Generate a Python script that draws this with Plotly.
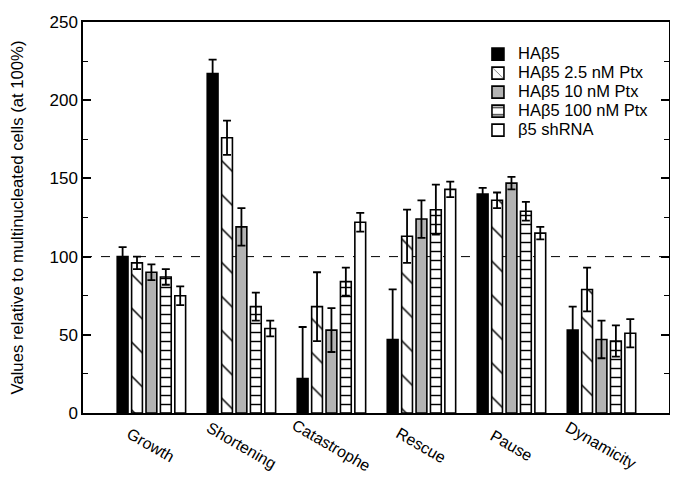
import plotly.graph_objects as go

categories = ["Growth", "Shortening", "Catastrophe", "Rescue", "Pause", "Dynamicity"]
series_names = ["HAβ5", "HAβ5 2.5 nM Ptx", "HAβ5 10 nM Ptx", "HAβ5 100 nM Ptx", "β5 shRNA"]

ha_b5 = [100, 217, 22, 47, 140, 53]
ha_b5_err = [6, 9, 33, 32, 4, 15]
ptx_2_5 = [96, 176, 68, 113, 136, 79]
ptx_2_5_err = [4, 11, 22, 17, 5, 14]
ptx_10 = [90, 119, 53, 124, 147, 47]
ptx_10_err = [5, 12, 14, 12, 4, 12]
ptx_100 = [87, 68, 84, 130, 129, 46]
ptx_100_err = [5, 9, 9, 16, 6, 10]
shrna = [75, 54, 122, 143, 115, 51]
shrna_err = [6, 5, 6, 5, 4, 9]

y_ticks = [0, 50, 100, 150, 200, 250]
reference_level = 100

values = [ha_b5, ptx_2_5, ptx_10, ptx_100, shrna]
errors = [ha_b5_err, ptx_2_5_err, ptx_10_err, ptx_100_err, shrna_err]

FONT = "Liberation Sans, Arial, Helvetica, sans-serif"

styles = [
    dict(color="black"),
    dict(color="white", pattern=dict(shape="\\", size=24, solidity=0.06, fgcolor="black",
                                     bgcolor="white", fgopacity=1)),
    dict(color="#b3b3b3"),
    dict(color="white", pattern=dict(shape="-", size=9, solidity=0.16, fgcolor="black",
                                     bgcolor="white", fgopacity=1)),
    dict(color="white"),
]

fig = go.Figure()
for name, vals, errs, st in zip(series_names, values, errors, styles):
    marker = dict(line=dict(color="black", width=1.6), **st)
    fig.add_trace(go.Bar(
        x=categories, y=vals,
        name='<span style="font-size:16.5px">' + name + '</span>',
        marker=marker,
        error_y=dict(type="data", array=errs, color="black", thickness=1.8, width=4),
    ))

fig.add_shape(type="line", xref="paper", yref="y", x0=0, x1=1,
              y0=reference_level, y1=reference_level,
              line=dict(color="black", width=1, dash="dash"), layer="below")

for c in categories:
    fig.add_annotation(x=c, xref="x", y=0, yref="paper", yshift=-32,
                       text=c, showarrow=False, textangle=30,
                       xanchor="center", yanchor="middle",
                       font=dict(family=FONT, size=16, color="black"))

fig.update_layout(
    width=670, height=473,
    margin=dict(l=75, r=9, t=14, b=68, autoexpand=False),
    paper_bgcolor="white", plot_bgcolor="white",
    font=dict(family=FONT, size=16, color="black"),
    barmode="group", bargap=0.2, bargroupgap=0.25,
    showlegend=True,
    legend=dict(x=0.674, y=0.955, xanchor="left", yanchor="top",
                bgcolor="rgba(0,0,0,0)", font=dict(size=12), tracegroupgap=0),
    xaxis=dict(range=[-0.76, 5.75], showticklabels=False, ticks="",
               showline=True, linecolor="black", linewidth=1.5, mirror=True,
               showgrid=False, zeroline=False),
    yaxis=dict(range=[0, 250], tickvals=y_ticks, ticks="inside", ticklen=8, tickwidth=1.5,
               tickcolor="black",
               minor=dict(dtick=25, ticks="inside", ticklen=5, tickwidth=1.2, tickcolor="black"),
               showline=True, linecolor="black", linewidth=1.5, mirror="ticks",
               showgrid=False, zeroline=False, tickfont=dict(size=17), automargin=False,
               title=dict(text="Values relative to multinucleated cells (at 100%)",
                          font=dict(size=16.7), standoff=24)),
)

fig.write_html("out.html")
